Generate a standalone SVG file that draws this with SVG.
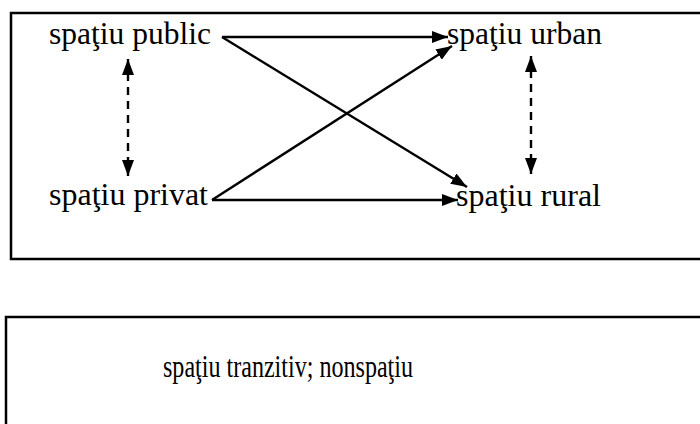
<svg xmlns="http://www.w3.org/2000/svg" width="700" height="424" viewBox="0 0 700 424">
<style>
.box{fill:none;stroke:#000;stroke-width:2.5}
.t{font-family:"Liberation Serif","Times New Roman",serif;font-size:32px;fill:#000}
.c{stroke:#000;stroke-width:2.4;fill:none}
.d{stroke:#000;stroke-width:2.4;fill:none;stroke-dasharray:8,6}
</style>
<defs>
<marker id="ah" viewBox="0 0 16 12" refX="16" refY="6" markerWidth="16" markerHeight="12" markerUnits="userSpaceOnUse" orient="auto-start-reverse">
<path d="M0,0 L16,6 L0,12 Z" fill="#000"/>
</marker>
</defs>
<rect class="box" x="11" y="13" width="710" height="246"/>
<rect class="box" x="6" y="317" width="715" height="130"/>
<g id="n-public"><text class="t" x="49" y="44" textLength="162" lengthAdjust="spacingAndGlyphs">spaţiu public</text></g>
<g id="n-privat"><text class="t" x="49" y="205" textLength="159" lengthAdjust="spacingAndGlyphs">spaţiu privat</text></g>
<g id="n-urban"><text class="t" x="447" y="44" textLength="155" lengthAdjust="spacingAndGlyphs">spaţiu urban</text></g>
<g id="n-rural"><text class="t" x="456" y="206" textLength="145" lengthAdjust="spacingAndGlyphs">spaţiu rural</text></g>
<g id="n-tranzitiv"><text class="t" x="163" y="377" textLength="250" lengthAdjust="spacingAndGlyphs">spaţiu tranzitiv; nonspaţiu</text></g>
<g id="connectors">
<line class="c" x1="222" y1="37" x2="448" y2="37" marker-end="url(#ah)"/>
<line class="c" x1="222" y1="37" x2="467" y2="187" marker-end="url(#ah)"/>
<line class="c" x1="212" y1="200" x2="452" y2="46" marker-end="url(#ah)"/>
<line class="c" x1="212" y1="200" x2="458" y2="200" marker-end="url(#ah)"/>
<line class="d" x1="128" y1="59" x2="128" y2="176" marker-start="url(#ah)" marker-end="url(#ah)"/>
<line class="d" x1="531" y1="56" x2="531" y2="174" marker-start="url(#ah)" marker-end="url(#ah)"/>
</g>
</svg>
